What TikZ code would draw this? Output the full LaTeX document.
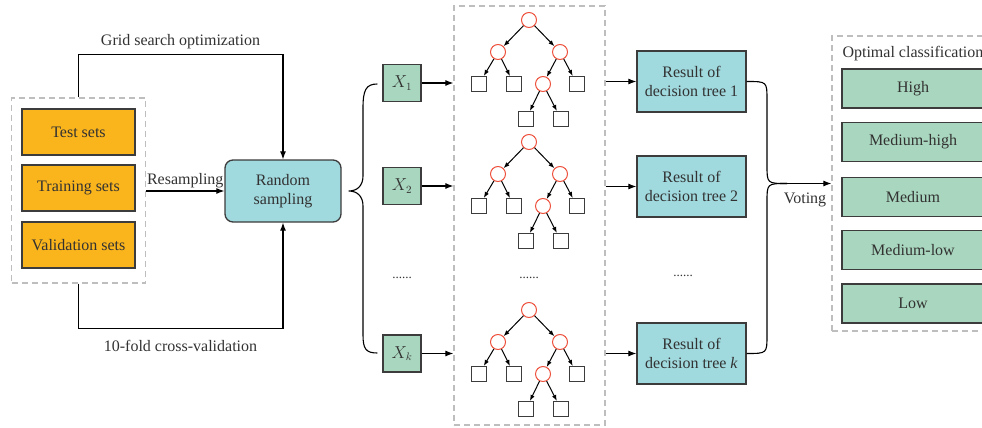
\documentclass[tikz,border=0pt]{standalone}
\usepackage{fontspec}
\setmainfont{Liberation Serif}
\usetikzlibrary{arrows.meta,calc}
\definecolor{txt}{RGB}{50,50,50}
\definecolor{orng}{RGB}{250,180,28}
\definecolor{teal}{RGB}{160,217,222}
\definecolor{grn}{RGB}{169,214,190}
\definecolor{dgray}{RGB}{190,190,190}
\definecolor{tred}{RGB}{238,82,62}
\definecolor{bord}{RGB}{60,60,60}
\newcommand\mytree[2]{%
  \node[tc] (#1r) at (529,#2) {};
  \node[tc] (#1a) at (498,#2+32) {};
  \node[tc] (#1b) at (560,#2+32) {};
  \node[ts] (#1c) at (479,#2+64) {};
  \node[ts] (#1d) at (514,#2+64) {};
  \node[tc] (#1e) at (543,#2+64) {};
  \node[ts] (#1f) at (577,#2+64) {};
  \node[ts] (#1g) at (526,#2+99) {};
  \node[ts] (#1h) at (561,#2+99) {};
  \draw[tarr] (#1r) -- (#1a);
  \draw[tarr] (#1r) -- (#1b);
  \draw[tarr] (#1a) -- (#1c);
  \draw[tarr] (#1a) -- (#1d);
  \draw[tarr] (#1b) -- (#1e);
  \draw[tarr] (#1b) -- (#1f);
  \draw[tarr] (#1e) -- (#1g);
  \draw[tarr] (#1e) -- (#1h);
}
\begin{document}
\begin{tikzpicture}[x=1pt,y=-1pt,
  every node/.style={text=txt,font=\fontsize{16}{18.5}\selectfont},
  box/.style={draw=bord,line width=1.3pt,inner sep=0pt,align=center},
  dset/.style={box,fill=orng,minimum width=113,minimum height=46},
  xbox/.style={box,fill=grn,minimum width=38,minimum height=37},
  rbox/.style={box,fill=teal,minimum width=109,minimum height=61},
  cbox/.style={box,fill=grn,minimum width=142,minimum height=39},
  dbox/.style={draw=dgray,dashed,dash pattern=on 6pt off 4pt,line width=1.2pt,inner sep=0pt},
  tc/.style={circle,draw=tred,fill=white,line width=1pt,minimum size=15,inner sep=0pt},
  ts/.style={rectangle,draw=bord,line width=1.1pt,minimum size=15,inner sep=0pt},
  arr/.style={line width=1.1pt,-{Latex[length=8pt,width=6pt]}},
  tarr/.style={line width=1pt,-{Latex[length=6pt,width=4.5pt]}},
  con/.style={line width=1.1pt},
  dots/.style={font=\fontsize{13}{14}\selectfont}]
\useasboundingbox (0,0) rectangle (982,428);
\clip (0,0) rectangle (982,428);
% left data block
\node[dbox,minimum width=134,minimum height=185] (data) at (78.5,190.5) {};
\node[dset] (test) at (78.5,132) {Test sets};
\node[dset] (train) at (78.5,188) {Training sets};
\node[dset] (valid) at (78.5,245) {Validation sets};
% random sampling
\node[box,fill=teal,rounded corners=8pt,minimum width=116,minimum height=62] (rs) at (283,191) {Random\\sampling};
\draw[arr] (data.north) -- ++(0,-43) coordinate (gs) -| (rs.north);
\node at ($(gs)+(102,-13)$) (gslab) {Grid search optimization};
\draw[arr] (data.south) -- ++(0,45) coordinate (cv) -| (rs.south);
\node at ($(cv)+(102,17)$) (cvlab) {10-fold cross-validation};
\draw[arr] (data.east |- rs.west) -- node[above=-1pt] (rslab) {Resampling} (rs.west);
% X boxes
\node[xbox] (x1) at (402,83) {$X_1$};
\node[xbox] (x2) at (402,186) {$X_2$};
\node[xbox] (xk) at (402,353.5) {$X_k$};
\node[dots] (xd) at (402,278) {......};
% brace
\coordinate (bp) at ($(rs.east)+(7,0)$);
\draw[con] ($(x1.west)+(-5,1)$) .. controls (366,84) and (363,90) .. (363,108) -- (363,176)
  .. controls (363,186) and (357,191) .. (bp)
  .. controls (357,191) and (363,196) .. (363,206) -- (363,335)
  .. controls (363,349) and (366,353) .. ($(xk.west)+(-5,-0.5)$);
% forest box
\node[dbox,minimum width=151,minimum height=419] (forest) at (529.5,215.5) {};
\mytree{ta}{20}
\mytree{tb}{142}
\mytree{tk}{310}
\node[dots] (fd) at (529,278) {......};
\draw[arr] (x1.east) -- (x1.east -| forest.west);
\draw[arr] (x2.east) -- (x2.east -| forest.west);
\draw[arr] (xk.east) -- (xk.east -| forest.west);
% results
\node[rbox] (r1) at (691.5,81.5) {Result of\\decision tree 1};
\node[rbox] (r2) at (691.5,186.5) {Result of\\decision tree 2};
\node[rbox] (rk) at (691.5,353.5) {Result of\\decision tree \textit{k}};
\node[dots] (rd) at (683,276) {......};
\draw[arr] (forest.east |- r1.west) -- (r1.west);
\draw[arr] (forest.east |- r2.west) -- (r2.west);
\draw[arr] (forest.east |- rk.west) -- (rk.west);
% optimal classification
\node[dbox,minimum width=163,minimum height=295] (opt) at (913.5,183.5) {};
\node[anchor=west] (optlab) at (839,54) {Optimal classification};
\node[cbox] (c1) at (913,88.5) {High};
\node[cbox] (c2) at (913,142) {Medium-high};
\node[cbox] (c3) at (913,197) {Medium};
\node[cbox] (c4) at (913,250) {Medium-low};
\node[cbox] (c5) at (913,303.5) {Low};
% voting
\coordinate (vj) at (787,183.5);
\draw[con] (r1.east) .. controls (767,81.5) .. (767,100) -- (767,165) .. controls (767,183.5) .. (vj);
\draw[con] (rk.east) .. controls (767,353.5) .. (767,335) -- (767,202) .. controls (767,183.5) .. (vj);
\draw[arr] (vj) -- (opt.west);
\node (vlab) at (805,200) {Voting};
\end{tikzpicture}
\end{document}
